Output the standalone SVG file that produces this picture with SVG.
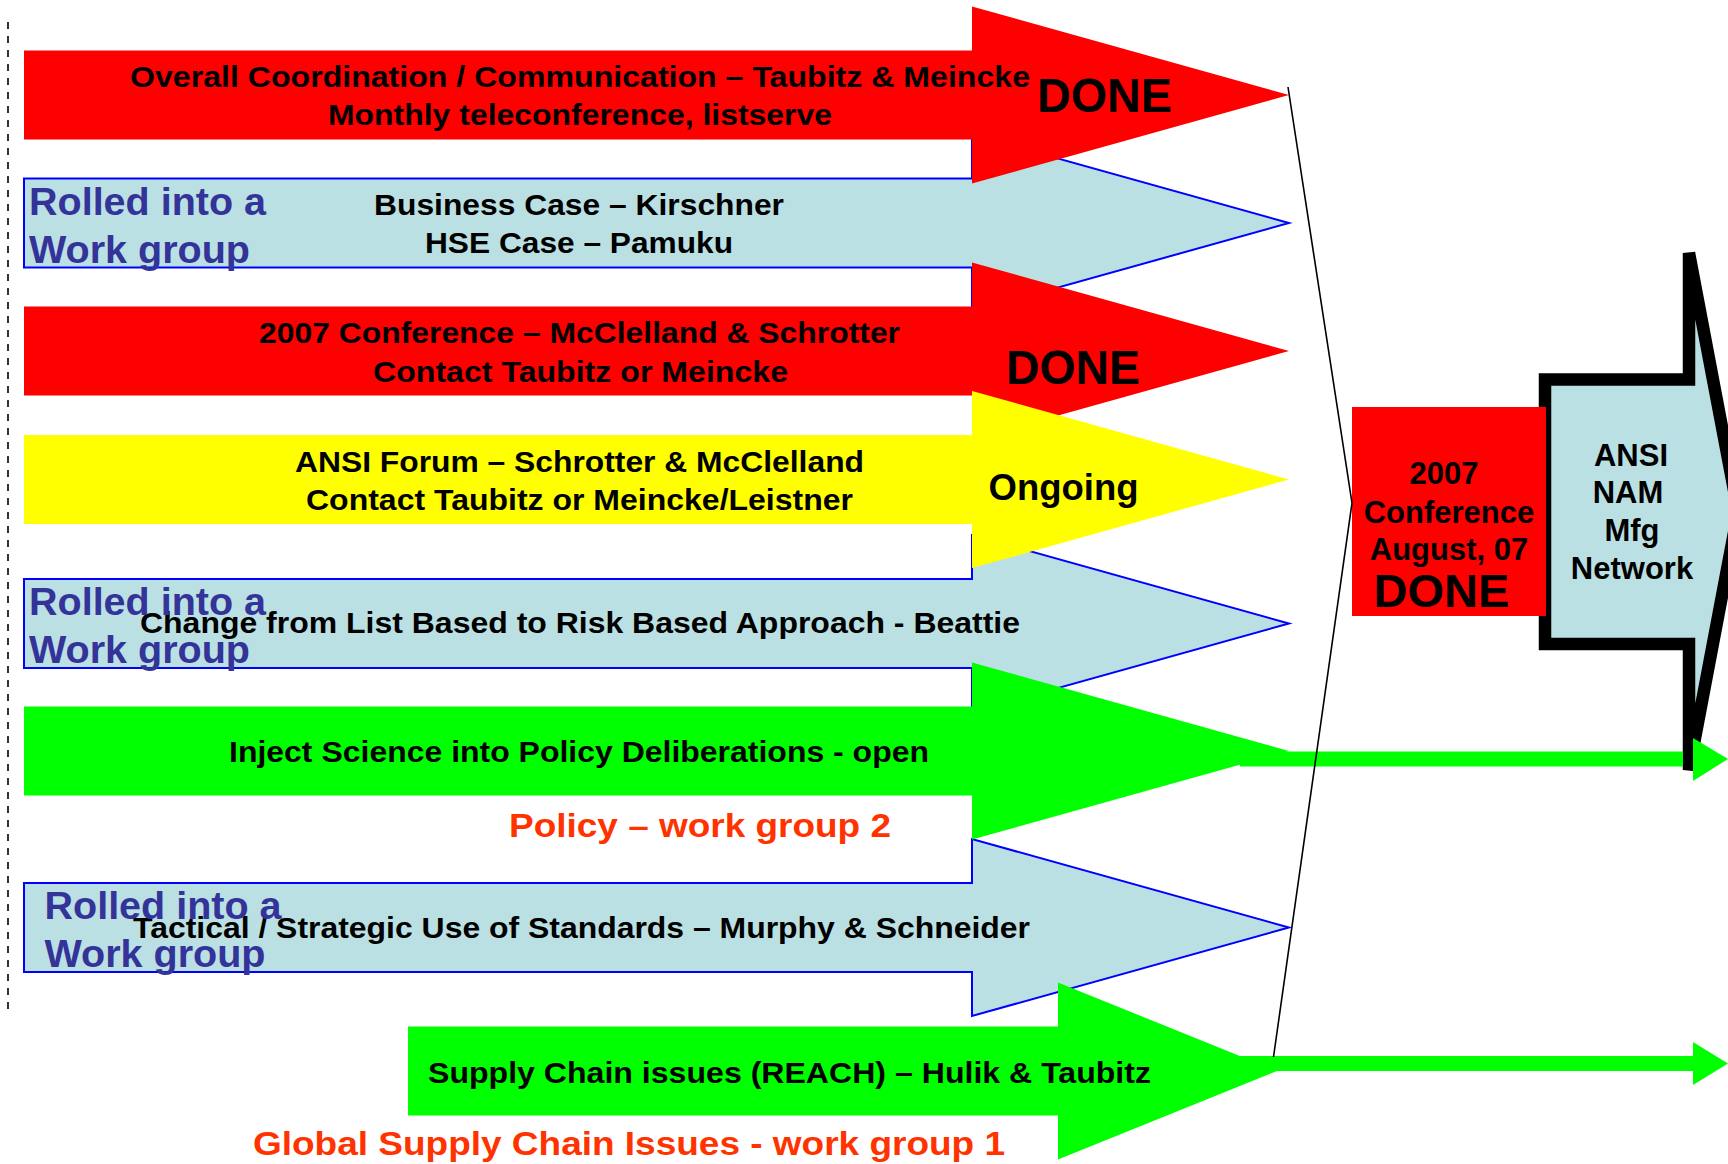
<svg xmlns="http://www.w3.org/2000/svg" width="1728" height="1164" viewBox="0 0 1728 1164">
<style>
text{font-family:"Liberation Sans",Arial,Helvetica,sans-serif;font-weight:bold}
.t{font-size:30px;fill:#000}
.rolled{font-size:38px;fill:#333399}
.done{font-size:48px;fill:#000}
.wg{font-size:34px;fill:#FF3300}
.box{font-size:31px;fill:#000;text-anchor:middle}
.red{fill:#FF0000}
.blue{fill:#BBE0E3;stroke:#0000FF;stroke-width:2}
.yellow{fill:#FFFF00}
.green{fill:#00FF00}
.gline{stroke:#00FF00;stroke-width:15;fill:none}
.ghead{fill:#00FF00}
</style>
<rect width="1728" height="1164" fill="#FFFFFF"/>
<g id="divider">
<line x1="8" y1="22" x2="8" y2="1010" stroke="#000" stroke-width="1.6" stroke-dasharray="7,7"/>
</g>
<g id="business-case">
<polygon class="blue" points="24,178.5 972,178.5 972,134.5 1289,223 972,311.5 972,267.5 24,267.5"/>
<text class="t" x="374" y="215" textLength="410" lengthAdjust="spacingAndGlyphs">Business Case – Kirschner</text>
<text class="t" x="425" y="253" textLength="308" lengthAdjust="spacingAndGlyphs">HSE Case – Pamuku</text>
<text class="rolled" x="29" y="215" textLength="237" lengthAdjust="spacingAndGlyphs">Rolled into a</text>
<text class="rolled" x="29" y="263" textLength="221" lengthAdjust="spacingAndGlyphs">Work group</text>
</g>
<g id="risk-approach">
<polygon class="blue" points="24,579 972,579 972,535 1289,623.5 972,712 972,668 24,668"/>
<text class="t" x="140" y="633" textLength="880" lengthAdjust="spacingAndGlyphs">Change from List Based to Risk Based Approach - Beattie</text>
<text class="rolled" x="29" y="615" textLength="237" lengthAdjust="spacingAndGlyphs">Rolled into a</text>
<text class="rolled" x="29" y="663" textLength="221" lengthAdjust="spacingAndGlyphs">Work group</text>
</g>
<g id="standards">
<polygon class="blue" points="24,883 972,883 972,839 1289,927.5 972,1016 972,972 24,972"/>
<text class="t" x="133" y="938" textLength="897" lengthAdjust="spacingAndGlyphs">Tactical / Strategic Use of Standards – Murphy &amp; Schneider</text>
<text class="rolled" x="44.5" y="919" textLength="237" lengthAdjust="spacingAndGlyphs">Rolled into a</text>
<text class="rolled" x="44.5" y="967" textLength="221" lengthAdjust="spacingAndGlyphs">Work group</text>
</g>
<g id="coordination">
<polygon class="red" points="24,50.5 972,50.5 972,6.5 1289,95 972,183.5 972,139.5 24,139.5"/>
<text class="t" x="130" y="87" textLength="900" lengthAdjust="spacingAndGlyphs">Overall Coordination / Communication – Taubitz &amp; Meincke</text>
<text class="t" x="328" y="125" textLength="504" lengthAdjust="spacingAndGlyphs">Monthly teleconference, listserve</text>
<text class="done" x="1037" y="112" textLength="135" lengthAdjust="spacingAndGlyphs">DONE</text>
</g>
<g id="conference-2007">
<polygon class="red" points="24,306.5 972,306.5 972,262.5 1289,351 972,439.5 972,395.5 24,395.5"/>
<text class="t" x="259" y="343" textLength="641" lengthAdjust="spacingAndGlyphs">2007 Conference – McClelland &amp; Schrotter</text>
<text class="t" x="373" y="382" textLength="415" lengthAdjust="spacingAndGlyphs">Contact Taubitz or Meincke</text>
<text class="done" x="1006" y="384" textLength="134" lengthAdjust="spacingAndGlyphs">DONE</text>
</g>
<g id="ansi-forum">
<polygon class="yellow" points="24,435 972,435 972,391 1289,479.5 972,568 972,524 24,524"/>
<text class="t" x="295" y="472" textLength="569" lengthAdjust="spacingAndGlyphs">ANSI Forum – Schrotter &amp; McClelland</text>
<text class="t" x="306" y="510" textLength="547" lengthAdjust="spacingAndGlyphs">Contact Taubitz or Meincke/Leistner</text>
<text x="988.5" y="500" font-size="36" fill="#000" textLength="150" lengthAdjust="spacingAndGlyphs">Ongoing</text>
</g>
<g id="policy">
<polygon class="green" points="24,706.5 972,706.5 972,662.5 1289,751 972,839.5 972,795.5 24,795.5"/>
<text class="t" x="229" y="762" textLength="700" lengthAdjust="spacingAndGlyphs">Inject Science into Policy Deliberations - open</text>
<text class="wg" x="509" y="837" textLength="382" lengthAdjust="spacingAndGlyphs">Policy – work group 2</text>
</g>
<g id="supply-chain">
<polygon class="green" points="408,1026.5 1058,1026.5 1058,982.5 1277,1071 1058,1159.5 1058,1115.5 408,1115.5"/>
<text class="t" x="428" y="1083" textLength="723" lengthAdjust="spacingAndGlyphs">Supply Chain issues (REACH) – Hulik &amp; Taubitz</text>
<text class="wg" x="253" y="1155" textLength="752" lengthAdjust="spacingAndGlyphs">Global Supply Chain Issues - work group 1</text>
</g>
<g id="ansi-nam">
<polygon points="1545,379.5 1689,379.5 1689,253 1738,511.5 1689,770 1689,644 1545,644" fill="#BBE0E3" stroke="#000" stroke-width="12.5" stroke-linejoin="miter"/>
<text class="box" x="1631" y="466">ANSI</text>
<text class="box" x="1628" y="503">NAM</text>
<text class="box" x="1632" y="541">Mfg</text>
<text class="box" x="1632" y="579">Network</text>
</g>
<g id="conference-box">
<rect x="1352" y="407" width="194" height="209" fill="#FF0000"/>
<text class="box" x="1444" y="484">2007</text>
<text class="box" x="1449" y="523">Conference</text>
<text class="box" x="1449" y="560">August, 07</text>
<text x="1441.5" y="607" font-size="47" fill="#000" text-anchor="middle">DONE</text>
</g>
<g id="connectors">
<line class="gline" x1="1240" y1="759" x2="1683" y2="759"/>
<polygon class="ghead" points="1693,738 1728,759 1693,781"/>
<line class="gline" x1="1240" y1="1063.5" x2="1696" y2="1063.5"/>
<polygon class="ghead" points="1693,1042 1728,1063.5 1693,1085"/>
<polyline points="1288,87 1352,503 1273.5,1057" fill="none" stroke="#000" stroke-width="1.6"/>
</g>
</svg>
